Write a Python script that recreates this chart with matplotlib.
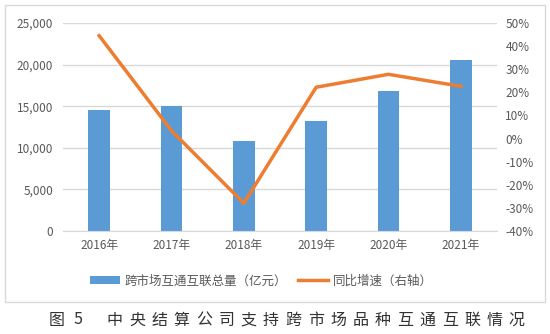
import matplotlib.pyplot as plt
import numpy as np
from matplotlib.patches import Rectangle
from matplotlib.ticker import FuncFormatter

plt.rcParams['font.family'] = ['Noto Sans CJK SC', 'DejaVu Sans']

# 数据
years = ['2016年', '2017年', '2018年', '2019年', '2020年', '2021年']
total = [14500, 15000, 10800, 13200, 16800, 20600]
growth = [44.5, 3.4, -28.0, 22.2, 27.8, 22.6]
title_head = '图5'
title_body = '中央结算公司支持跨市场品种互通互联情况'

fig = plt.figure(figsize=(5.5, 3.34), dpi=100)
# 外框
fig.patches.append(Rectangle((5 / 550, 1 - 302 / 334), 540 / 550, 297 / 334,
                             transform=fig.transFigure, fill=False,
                             edgecolor='#d9d9d9', linewidth=1))

ax = fig.add_axes([63 / 550, 1 - 231 / 334, 434 / 550, 208 / 334])
x = np.arange(len(years))
ax.bar(x, total, width=0.3, color='#5b9bd5', zorder=2,
       label='跨市场互通互联总量（亿元）')
ax.set_ylim(0, 25000)
ax.set_xlim(-0.5, len(years) - 0.5)
ax.set_yticks(np.arange(0, 25001, 5000))
ax.yaxis.set_major_formatter(FuncFormatter(lambda v, p: f'{int(v):,}'))
ax.set_xticks(x)
ax.set_xticklabels(years)
ax.grid(axis='y', color='#d9d9d9', linewidth=1, zorder=0)
for s in ['top', 'right', 'left']:
    ax.spines[s].set_visible(False)
ax.spines['bottom'].set_color('#d9d9d9')
ax.tick_params(length=0, labelsize=8.5, colors='#595959')
ax.tick_params(axis='x', pad=6)
ax.tick_params(axis='y', pad=7)

ax2 = ax.twinx()
ax2.plot(x, growth, color='#ed7d31', linewidth=2.5, zorder=3,
         label='同比增速（右轴）')
ax2.set_ylim(-40, 50)
ax2.set_yticks(np.arange(-40, 51, 10))
ax2.yaxis.set_major_formatter(FuncFormatter(lambda v, p: f'{int(v)}%'))
for s in ax2.spines.values():
    s.set_visible(False)
ax2.tick_params(length=0, labelsize=8.5, colors='#595959', pad=6)

h1, l1 = ax.get_legend_handles_labels()
h2, l2 = ax2.get_legend_handles_labels()
fig.legend(h1 + h2, l1 + l2, loc='center', bbox_to_anchor=(0.475, 1 - 281 / 334),
           ncol=2, frameon=False, fontsize=9, labelcolor='#595959',
           handlelength=2.4, handleheight=0.6, columnspacing=0.8, handletextpad=0.4)

# 图注，逐字排开
yc = 1 - 320 / 334
fig.text(56.5 / 550, yc, title_head[0], ha='center', va='center', fontsize=11.5,
         color='#333333', weight='light')
fig.text(78.5 / 550, yc, title_head[1], ha='center', va='center', fontsize=11.5,
         color='#333333', weight='light')
for i, ch in enumerate(title_body):
    fig.text((114.5 + i * 22.35) / 550, yc, ch, ha='center', va='center',
             fontsize=11.5, color='#333333', weight='light')

fig.savefig('out.png', dpi=100)
